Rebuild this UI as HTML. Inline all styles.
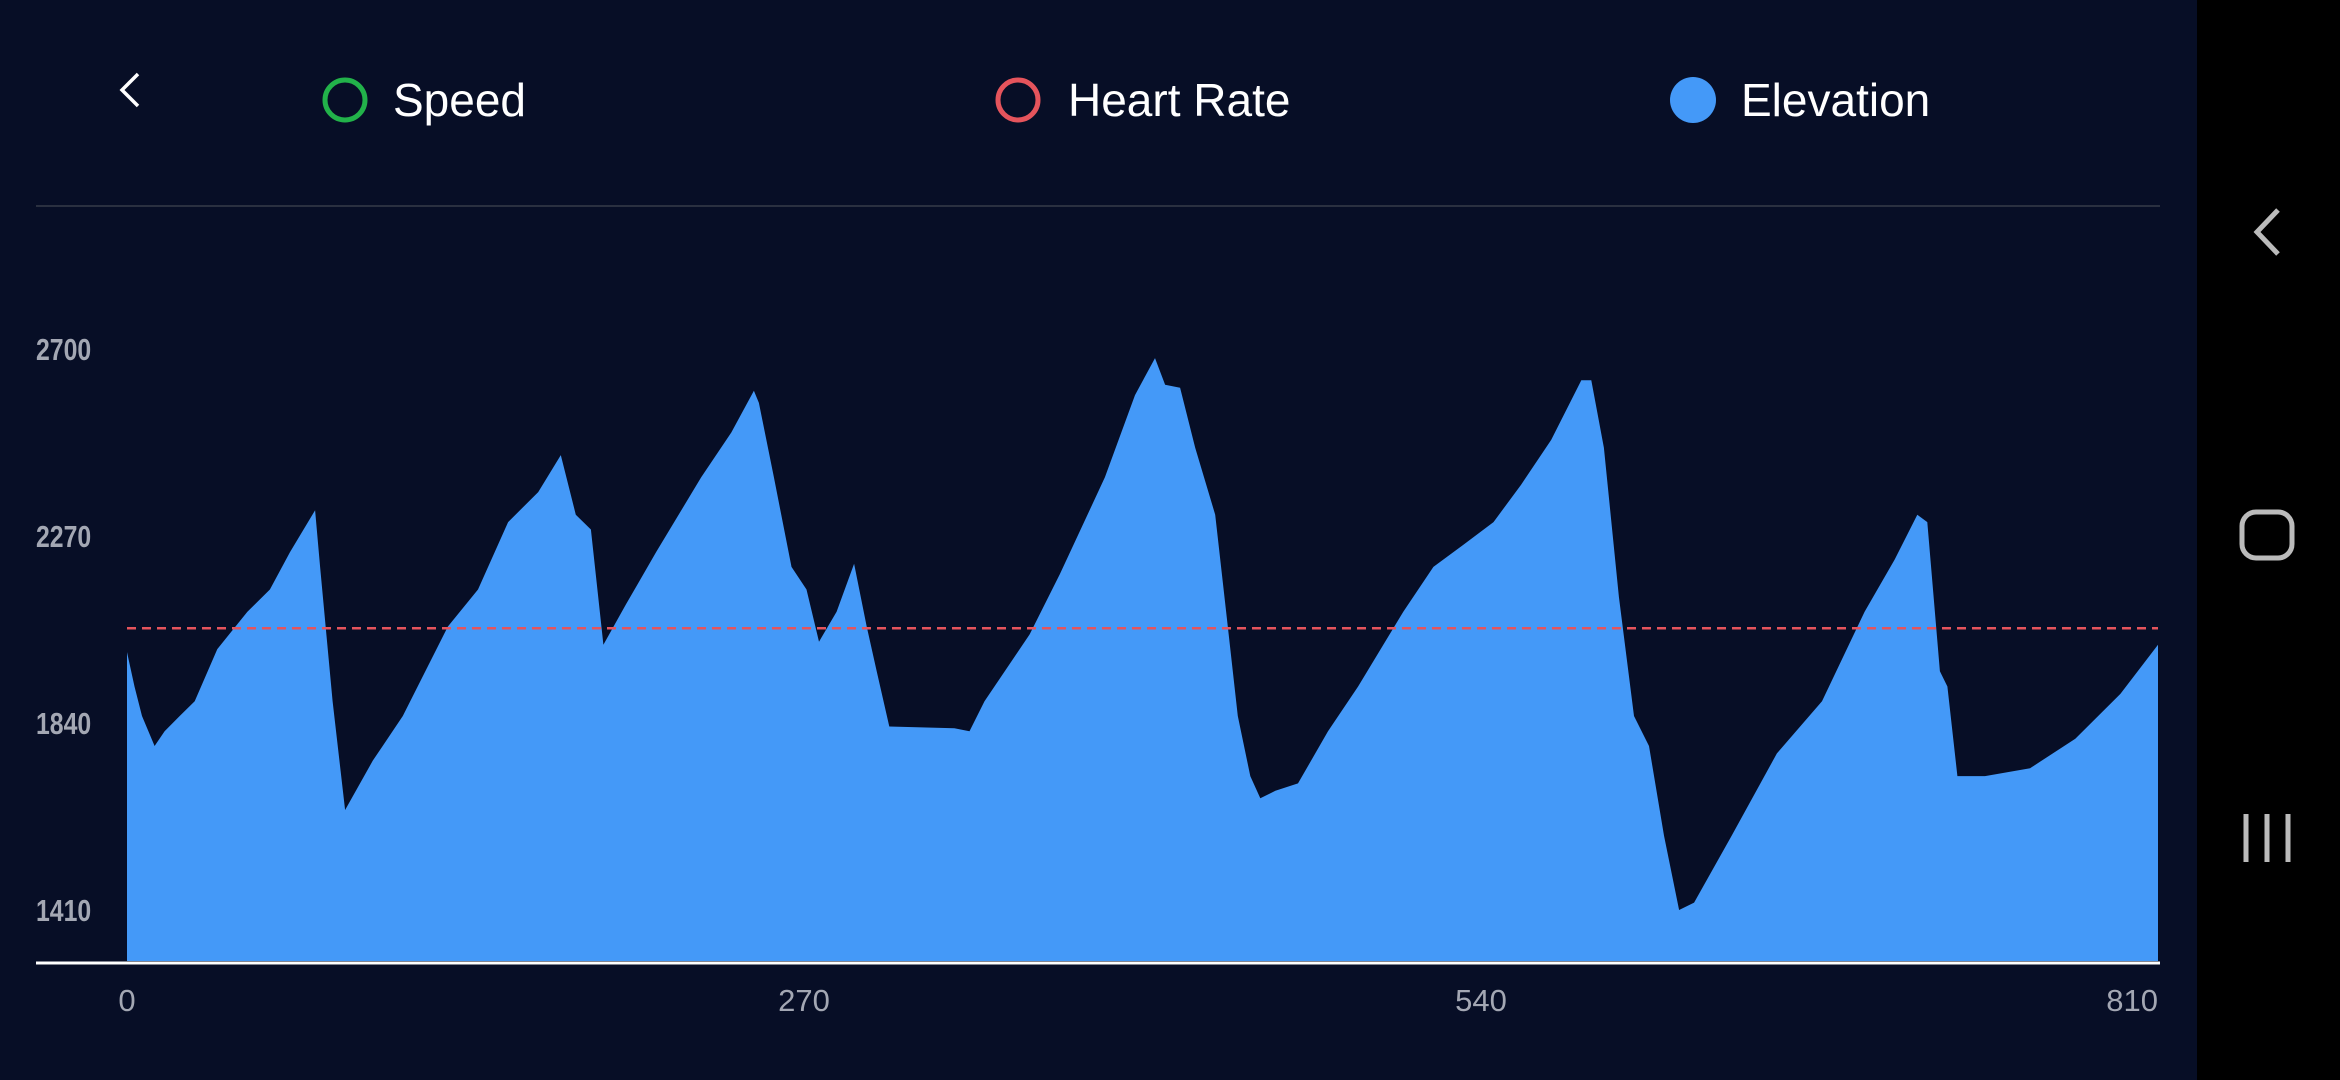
<!DOCTYPE html>
<html><head><meta charset="utf-8">
<style>
html,body{margin:0;padding:0;width:2340px;height:1080px;overflow:hidden;background:#070e26;font-family:"Liberation Sans",sans-serif;}
#nav{position:absolute;left:2197px;top:0;width:143px;height:1080px;background:#000;}
svg{position:absolute;left:0;top:0;}
</style></head><body>
<div id="nav"></div>
<svg id="chart" width="2340" height="1080" viewBox="0 0 2340 1080">
  <g><polyline points="138,74 122,90 138,106" fill="none" stroke="#fff" stroke-width="3.5"/></g>
  <g>
    <circle cx="345" cy="100" r="20" fill="none" stroke="#22b24a" stroke-width="5"/>
    <text x="393" y="116" font-size="46" fill="#fff">Speed</text></g>
  <g>
    <circle cx="1018" cy="100" r="20" fill="none" stroke="#e5545c" stroke-width="5"/>
    <text x="1068" y="116" font-size="46" fill="#fff">Heart Rate</text></g>
  <g>
    <circle cx="1693" cy="100" r="23" fill="#4499f8"/>
    <text x="1741" y="116" font-size="46" fill="#fff">Elevation</text></g>
  <line x1="36" y1="206" x2="2160" y2="206" stroke="#2a3040" stroke-width="2"/>
  <g id="plot"></g>
  <g><polyline points="2278,210 2257,232 2278,254" fill="none" stroke="#bbb" stroke-width="5"/></g>
  <rect x="2242" y="512" width="50" height="46" rx="14" fill="none" stroke="#bbb" stroke-width="5"/>
  <g stroke="#bbb" stroke-width="5">
    <line x1="2246" y1="814" x2="2246" y2="862"/><line x1="2267" y1="814" x2="2267" y2="862"/><line x1="2288" y1="814" x2="2288" y2="862"/></g>
</svg>
<script>
const distances=[0,3,6,11,15,21,27,36,48,57,65,75,77,82,87,98,110,128,140,152,164,173,179,185,190,199,211,229,241,250,252,258,265,271,276,283,290,295,299,304,330,336,342,360,372,390,402,410,414,420,426,434,439,443,448,452,458,467,479,491,509,521,533,545,556,568,580,584,589,595,601,607,613,619,625,640,658,676,693,705,714,718,723,726,730,741,759,777,795,810];
const elevations=[2003,1924,1856,1787,1821,1856,1890,2010,2096,2147,2233,2329,2199,1890,1640,1753,1856,2062,2147,2302,2371,2456,2319,2285,2020,2113,2233,2405,2508,2604,2576,2405,2199,2147,2027,2096,2206,2062,1959,1832,1828,1821,1890,2044,2182,2405,2594,2679,2618,2611,2473,2319,2062,1856,1718,1667,1684,1701,1821,1924,2096,2199,2250,2302,2388,2491,2628,2628,2473,2130,1856,1787,1581,1410,1427,1581,1770,1890,2096,2216,2319,2302,1959,1924,1718,1718,1736,1804,1907,2020];
const yTicks=[2700,2270,1840,1410];
const xTicks=[0,270,540,810];
const heartRateAvg=[2058];
const NS="http://www.w3.org/2000/svg";
const X0=127,X1=2158,Y0=349,Y1=910,BASE=961;
function sx(d){return X0+(d-0)/(810-0)*(X1-X0);}
function sy(e){return Y0+(2700-e)/(2700-1410)*(Y1-Y0);}
const g=document.getElementById('plot');
function mk(tag,attrs){const el=document.createElementNS(NS,tag);for(const k in attrs)el.setAttribute(k,attrs[k]);g.appendChild(el);return el;}
let d='M'+sx(distances[0])+','+BASE;
for(let i=0;i<distances.length;i++)d+=' L'+sx(distances[i]).toFixed(1)+','+sy(elevations[i]).toFixed(1);
d+=' L'+sx(distances[distances.length-1])+','+BASE+' Z';
const area=mk('path',{d:d,fill:'#4499f8'});


const hr=mk('line',{x1:X0,x2:X1,y1:sy(heartRateAvg[0]),y2:sy(heartRateAvg[0]),stroke:'#e5545c','stroke-width':2.5,'stroke-dasharray':'9,6'});


const ax=mk('line',{x1:36,x2:2160,y1:963,y2:963,stroke:'#fff','stroke-width':3});


yTicks.forEach(v=>{
  const t=mk('text',{x:36,y:sy(v)+11,'font-size':31,'font-weight':'bold',fill:'#a3a7b3',transform:'translate(36,0) scale(0.8,1) translate(-36,0)'});
  t.textContent=v;
  
  
});
xTicks.forEach((v,i)=>{
  const last=i===xTicks.length-1;
  const t=mk('text',{x:last?sx(v):sx(v),y:1011,'font-size':31,fill:'#a3a7b3','text-anchor':last?'end':'middle'});
  t.textContent=v;
  
  
});
</script>
</body></html>
